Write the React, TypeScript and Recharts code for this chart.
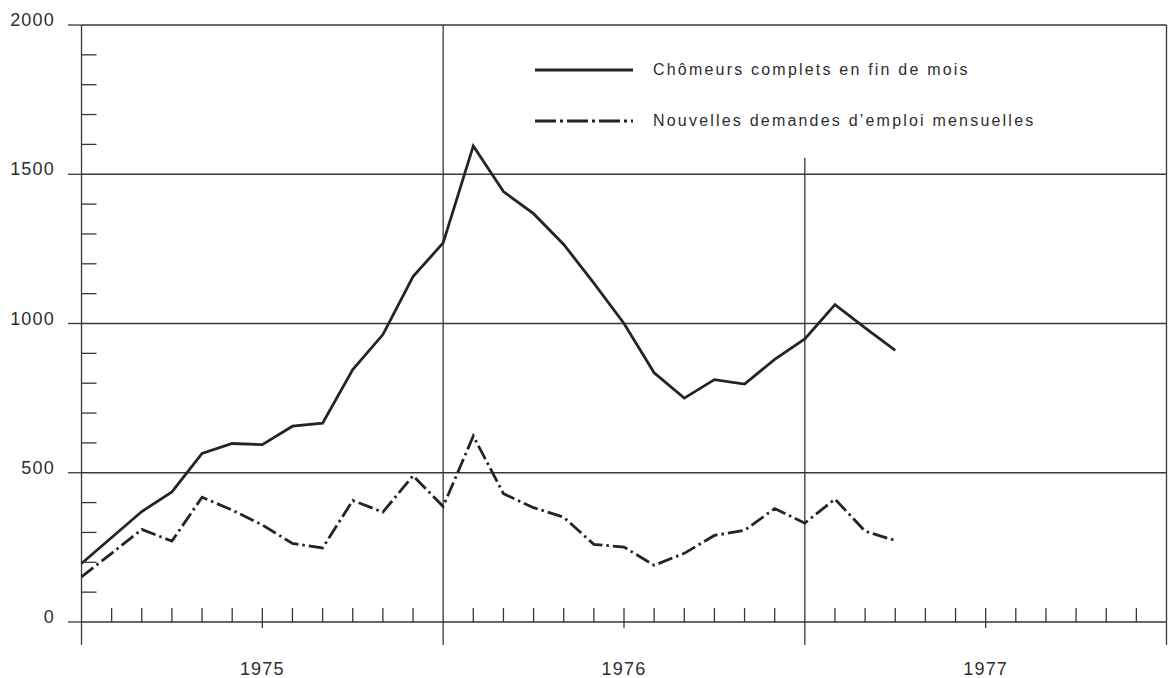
import { Line, LineChart, ReferenceLine, XAxis, YAxis } from "recharts";

// monthly values, Jan 1975 -> Apr 1977 (in hundreds of persons as printed)
const chomeurs = [196, 283, 370, 436, 565, 598, 594, 656, 666, 846, 963, 1157, 1270, 1595, 1442, 1368, 1265, 1135, 1000, 835, 750, 812, 797, 880, 948, 1063, 985, 910];
const demandes = [151, 230, 310, 271, 418, 375, 325, 263, 248, 407, 368, 490, 387, 623, 430, 383, 351, 260, 251, 190, 230, 290, 307, 380, 331, 412, 304, 273];
const years = ["1975", "1976", "1977"];
const yMajor = [0, 500, 1000, 1500, 2000];
const yTicks = Array.from({ length: 21 }, (_, i) => i * 100);
const monthTicks = Array.from({ length: 37 }, (_, i) => i);

const data = chomeurs.map((v, i) => ({ m: i, chomeurs: v, demandes: demandes[i] }));

const INK = "#242424";
const GRID = "#383838";
const FONT = '"Liberation Sans", Arial, Helvetica, sans-serif';
const DASH_DOT = "15 4 2.5 4";

const labelStyle = { fontFamily: FONT, fontSize: 18, letterSpacing: 1.2, fill: "#2e2e2e" };

function MonthTick({ x, y, payload }: any) {
  const m = payload.value;
  const yearEdge = m % 12 === 0;
  const mid = m % 12 === 6;
  return (
    <g>
      {!yearEdge && (
        <line x1={x} x2={x} y1={y - 14} y2={mid ? y + 6 : y} stroke={GRID} strokeWidth={1.3} />
      )}
      {mid && (
        <text x={x} y={y + 53} textAnchor="middle" style={labelStyle}>
          {years[(m - 6) / 12]}
        </text>
      )}
    </g>
  );
}

function LeftTick({ x, y, payload }: any) {
  const v = payload.value;
  if (yMajor.includes(v)) {
    return (
      <g>
        <line x1={x - 13.5} x2={x} y1={y} y2={y} stroke={GRID} strokeWidth={1.3} />
        <text x={x - 26.5} y={y + 1} textAnchor="end" style={labelStyle}>
          {v}
        </text>
      </g>
    );
  }
  return <line x1={x} x2={x + 15} y1={y} y2={y} stroke={GRID} strokeWidth={1.3} />;
}

function RightTick({ x, y, payload }: any) {
  if (yMajor.includes(payload.value)) return <g />;
  return <line x1={x - 14} x2={x} y1={y} y2={y} stroke={GRID} strokeWidth={1.3} />;
}

const legendText = { fontFamily: FONT, fontSize: 16, letterSpacing: 2.2, color: "#2e2e2e" };

function LegendRow({ top, dash, label }: { top: number; dash?: string; label: string }) {
  return (
    <div style={{ position: "absolute", left: 535, top: top - 10, height: 20, display: "flex", alignItems: "center" }}>
      <svg width={98} height={6} style={{ marginRight: 20 }}>
        <line x1={0} x2={98} y1={3} y2={3} stroke={INK} strokeWidth={3} strokeDasharray={dash} />
      </svg>
      <span style={legendText}>{label}</span>
    </div>
  );
}

export default function App() {
  return (
    <div style={{ position: "relative", width: 1168, height: 678, background: "#fff" }}>
      <style>{"body{margin:0}"}</style>
      <LineChart width={1168} height={678} data={data} margin={{ top: 25, right: 1.5, bottom: 0, left: 0 }}>
        <XAxis
          dataKey="m"
          type="number"
          domain={[0, 36]}
          ticks={monthTicks}
          interval={0}
          height={56}
          axisLine={false}
          tickLine={false}
          tickSize={0}
          tickMargin={0}
          tick={<MonthTick />}
        />
        <YAxis
          type="number"
          domain={[0, 2000]}
          ticks={yTicks}
          interval={0}
          width={81.5}
          axisLine={false}
          tickLine={false}
          tickSize={0}
          tickMargin={0}
          tick={<LeftTick />}
        />
        <YAxis
          yAxisId="r"
          orientation="right"
          type="number"
          domain={[0, 2000]}
          ticks={yTicks}
          interval={0}
          width={0}
          axisLine={false}
          tickLine={false}
          tickSize={0}
          tickMargin={0}
          tick={<RightTick />}
        />
        {yMajor.map((v) => (
          <ReferenceLine key={v} y={v} stroke={GRID} strokeWidth={1.3} ifOverflow="visible" />
        ))}
        <ReferenceLine segment={[{ x: 0, y: -77 }, { x: 0, y: 2000 }]} stroke={GRID} strokeWidth={1.3} ifOverflow="visible" />
        <ReferenceLine segment={[{ x: 12, y: -77 }, { x: 12, y: 2000 }]} stroke={GRID} strokeWidth={1.3} ifOverflow="visible" />
        <ReferenceLine segment={[{ x: 24, y: -77 }, { x: 24, y: 1555 }]} stroke={GRID} strokeWidth={1.3} ifOverflow="visible" />
        <ReferenceLine segment={[{ x: 36, y: -77 }, { x: 36, y: 2000 }]} stroke={GRID} strokeWidth={1.3} ifOverflow="visible" />
        <Line
          dataKey="chomeurs"
          type="linear"
          stroke={INK}
          strokeWidth={2.8}
          dot={false}
          isAnimationActive={false}
        />
        <Line
          dataKey="demandes"
          type="linear"
          stroke={INK}
          strokeWidth={2.8}
          strokeDasharray={DASH_DOT}
          dot={false}
          isAnimationActive={false}
        />
      </LineChart>
      <LegendRow top={70} label="Chômeurs complets en fin de mois" />
      <LegendRow top={121} dash="21 4 3 4" label="Nouvelles demandes d’emploi mensuelles" />
    </div>
  );
}
